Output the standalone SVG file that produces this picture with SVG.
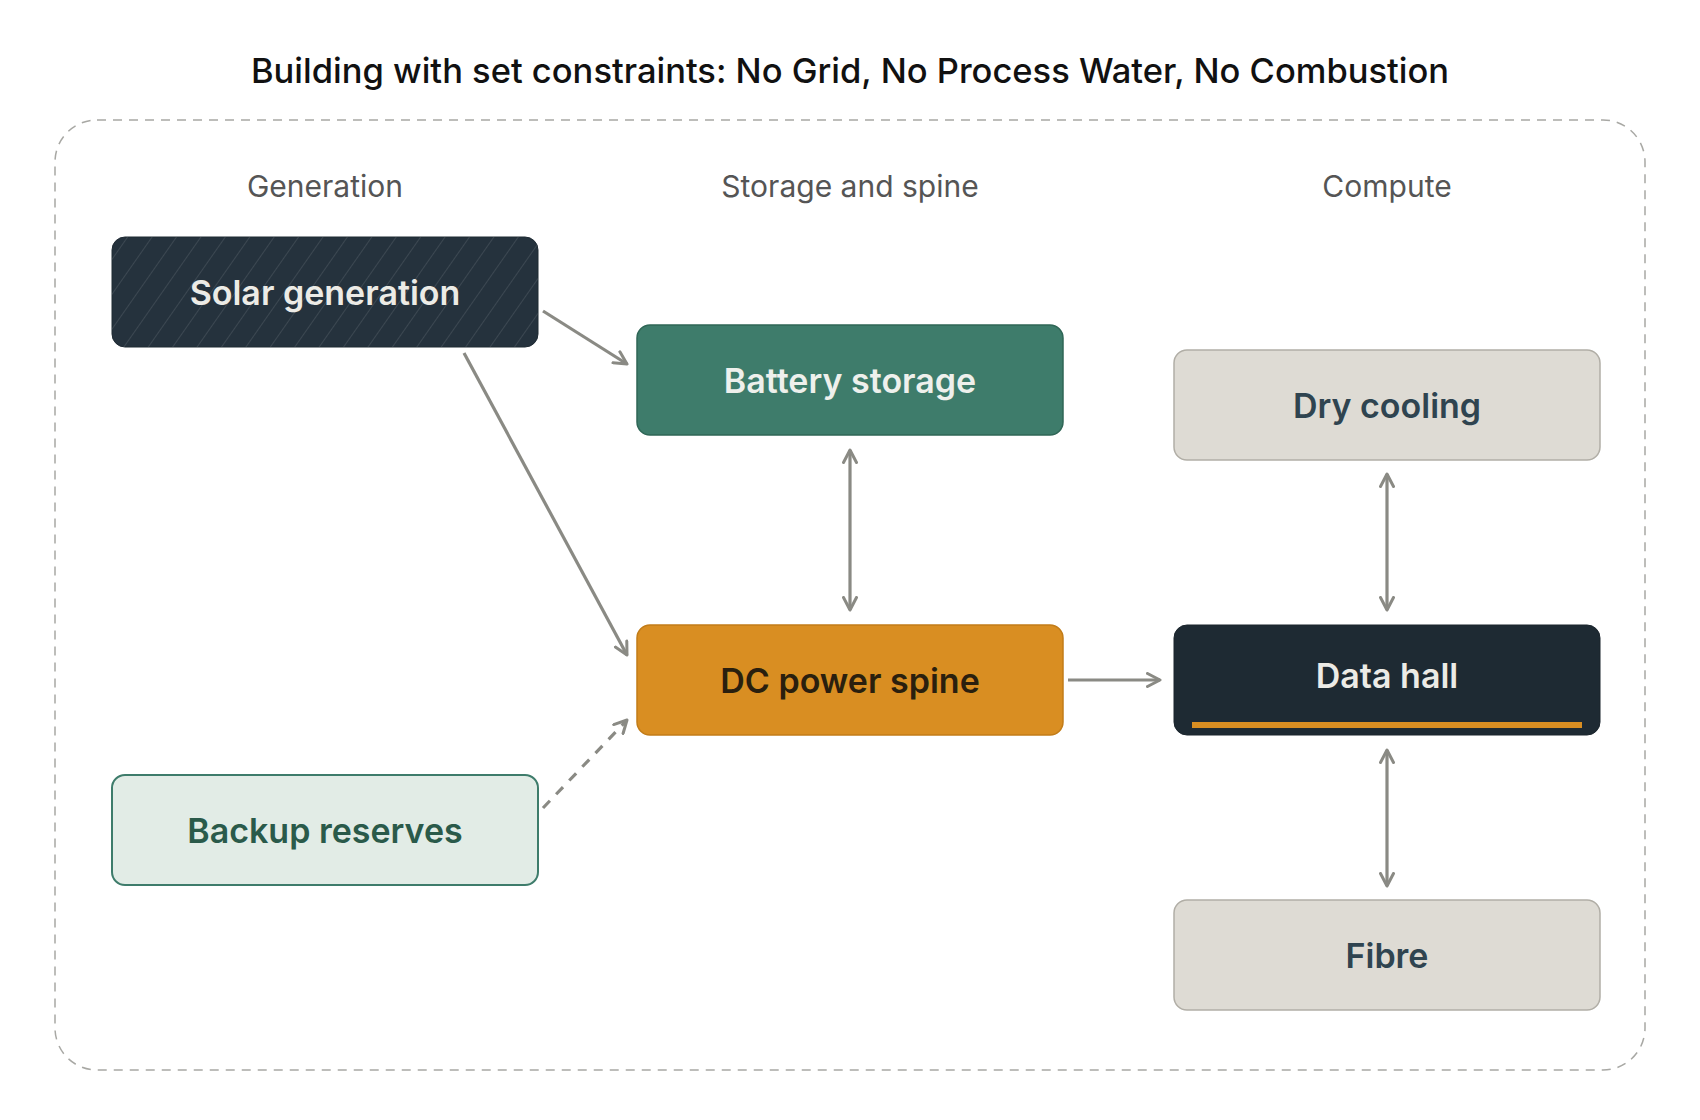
<svg xmlns="http://www.w3.org/2000/svg" width="1700" height="1120" viewBox="0 0 1700 1120">
<style>
text{font-family:Inter,"Noto Sans","Liberation Sans",sans-serif;text-anchor:middle}
.title{font-size:34.5px;font-weight:500;fill:#111111}
.hdr{font-size:30px;font-weight:400;fill:#555555}
.lbl{font-size:34px;font-weight:600}
.edge{fill:none;stroke:#8a8a84;stroke-width:3.2}
.dash{stroke-dasharray:10 9}
</style>
<defs>
<pattern id="hatch" patternUnits="userSpaceOnUse" width="20" height="20" patternTransform="rotate(35)">
<line x1="0" y1="0" x2="0" y2="20" stroke="#ffffff" stroke-opacity="0.16" stroke-width="1.3"/>
</pattern>
<marker id="arr" viewBox="0 0 16 16" refX="14" refY="8" markerWidth="16" markerHeight="16" markerUnits="userSpaceOnUse" orient="auto-start-reverse">
<path d="M1.5,1.5 L14,8 L1.5,14.5" fill="none" stroke="#8a8a84" stroke-width="3" stroke-linecap="round" stroke-linejoin="round"/>
</marker>
</defs>
<rect width="1700" height="1120" fill="#ffffff"/>
<text class="title" x="850" y="83">Building with set constraints: No Grid, No Process Water, No Combustion</text>
<rect x="55" y="120" width="1590" height="950" rx="42" fill="none" stroke="#a8a8a4" stroke-width="1.5" stroke-dasharray="9 7"/>
<text class="hdr" x="325" y="197">Generation</text>
<text class="hdr" x="850" y="197">Storage and spine</text>
<text class="hdr" x="1387" y="197">Compute</text>
<g id="connectors">
<line class="edge" x1="543" y1="311" x2="627" y2="364" marker-end="url(#arr)"/>
<line class="edge" x1="464" y1="353" x2="627" y2="655" marker-end="url(#arr)"/>
<line class="edge" x1="850" y1="450" x2="850" y2="610" marker-start="url(#arr)" marker-end="url(#arr)"/>
<line class="edge" x1="1068" y1="680" x2="1160" y2="680" marker-end="url(#arr)"/>
<line class="edge" x1="1387" y1="474" x2="1387" y2="610" marker-start="url(#arr)" marker-end="url(#arr)"/>
<line class="edge" x1="1387" y1="750" x2="1387" y2="886" marker-start="url(#arr)" marker-end="url(#arr)"/>
<line class="edge dash" x1="543" y1="808" x2="627" y2="720" marker-end="url(#arr)"/>
</g>
<g id="solar">
<rect x="112" y="237" width="426" height="110" rx="13" fill="#25323d" stroke="#1f2a33" stroke-width="1"/>
<rect x="112" y="237" width="426" height="110" rx="13" fill="url(#hatch)"/>
<text class="lbl" x="325" y="305" fill="#ecebe6">Solar generation</text>
</g>
<g id="battery">
<rect x="637" y="325" width="426" height="110" rx="13" fill="#3e7c6b" stroke="#2f6656" stroke-width="1.5"/>
<text class="lbl" x="850" y="393" fill="#eef0ec">Battery storage</text>
</g>
<g id="dcspine">
<rect x="637" y="625" width="426" height="110" rx="13" fill="#d98e22" stroke="#c27c18" stroke-width="1.5"/>
<text class="lbl" x="850" y="693" fill="#2a1f0e">DC power spine</text>
</g>
<g id="backup">
<rect x="112" y="775" width="426" height="110" rx="13" fill="#e2ece6" stroke="#3e7c6b" stroke-width="2"/>
<text class="lbl" x="325" y="843" fill="#2a5a4a">Backup reserves</text>
</g>
<g id="drycooling">
<rect x="1174" y="350" width="426" height="110" rx="13" fill="#dedbd4" stroke="#b1aea6" stroke-width="1.5"/>
<text class="lbl" x="1387" y="418" fill="#2f4450">Dry cooling</text>
</g>
<g id="datahall">
<rect x="1174" y="625" width="426" height="110" rx="13" fill="#1e2a33" stroke="#1a242c" stroke-width="1"/>
<rect x="1192" y="722" width="390" height="6" fill="#d98e22"/>
<text class="lbl" x="1387" y="688" fill="#ecebe6">Data hall</text>
</g>
<g id="fibre">
<rect x="1174" y="900" width="426" height="110" rx="13" fill="#dedbd4" stroke="#b1aea6" stroke-width="1.5"/>
<text class="lbl" x="1387" y="968" fill="#2f4450">Fibre</text>
</g>
</svg>
